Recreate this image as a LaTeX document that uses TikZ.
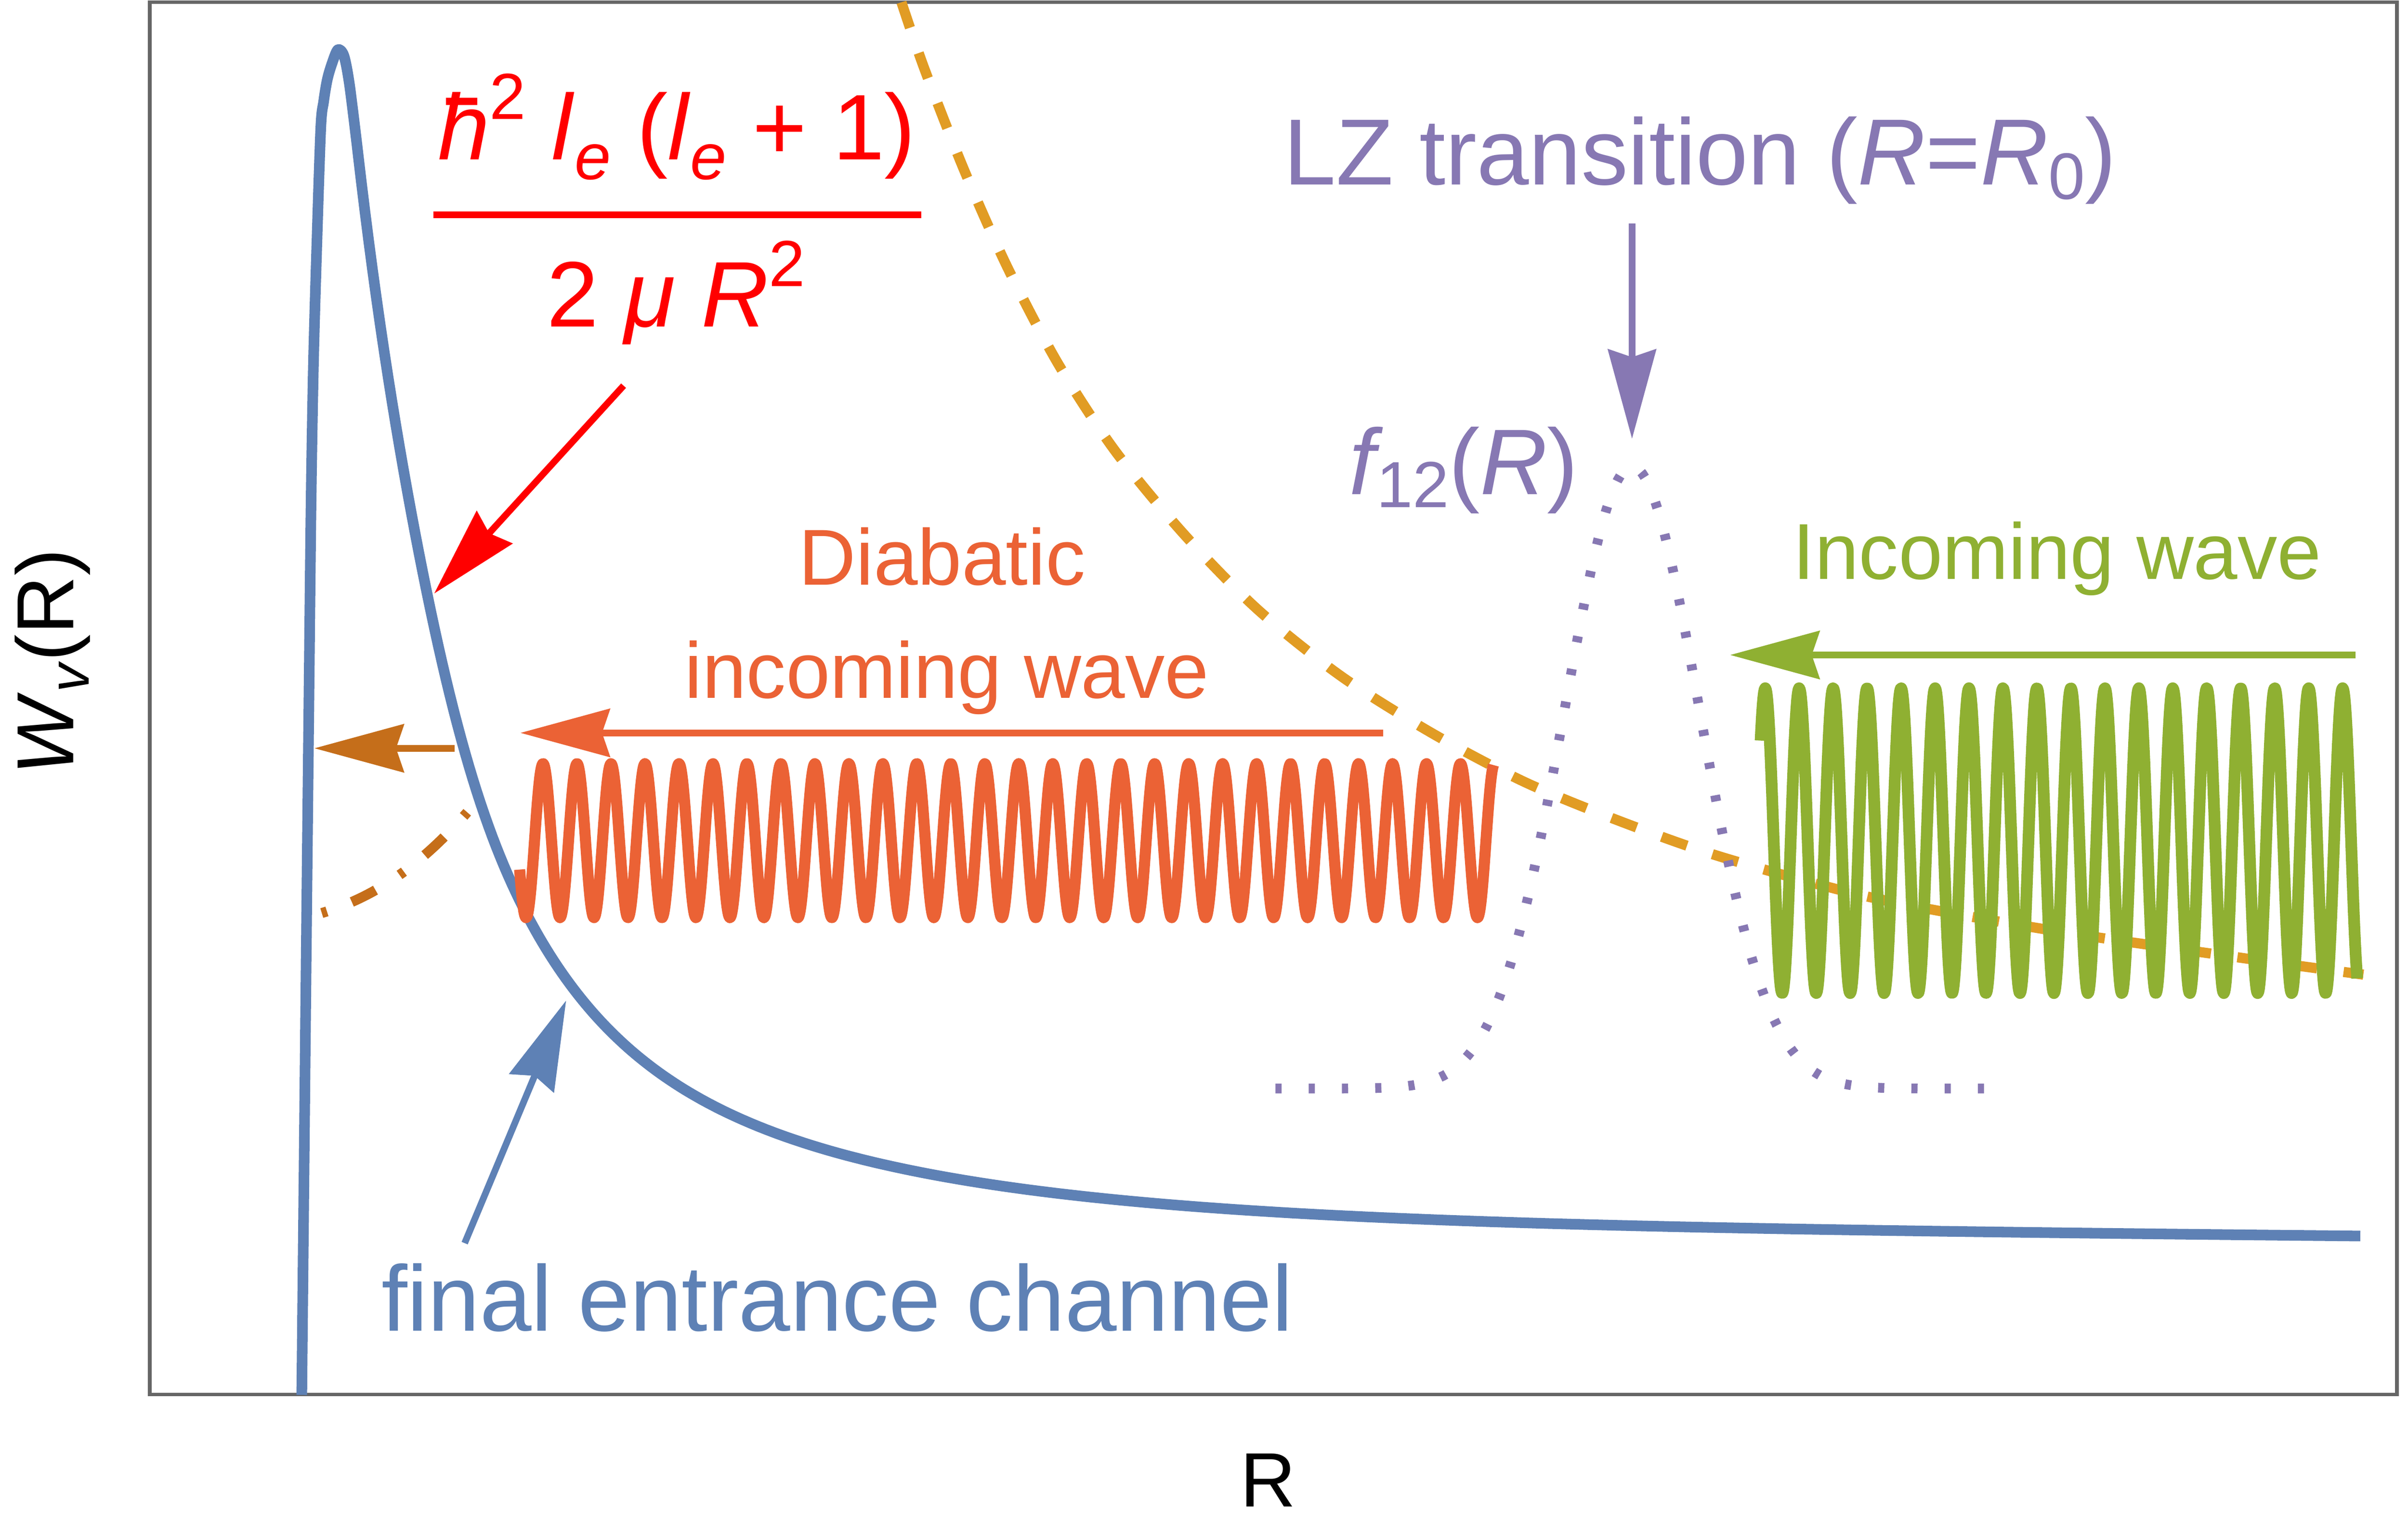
\documentclass[tikz,border=0pt]{standalone}
\usepackage{fontspec}
\setmainfont{Liberation Sans}
\usepackage{graphicx}
\usetikzlibrary{arrows.meta}
\definecolor{cBlue}{HTML}{5E81B5}
\definecolor{cOrange}{HTML}{E19C24}
\definecolor{cGreen}{HTML}{8FB032}
\definecolor{cRedOr}{HTML}{EB6235}
\definecolor{cPurple}{HTML}{8778B3}
\definecolor{cBrown}{HTML}{C56E1A}
\definecolor{cFrame}{HTML}{666666}
\newcommand\sps[1]{\raisebox{0.435em}{\scalebox{0.7}{#1}}}
\newcommand\sbs[2][0.2em]{\raisebox{-#1}{\scalebox{0.7}{#2}}}
\newcommand\hbarit{\makebox[0pt][l]{\hspace{0.085em}\rule[0.587em]{0.34em}{0.078em}}\textit{h}}
\begin{document}
\begin{tikzpicture}[x=1pt,y=-1pt,
  lbl/.style={inner sep=0pt, anchor=base west},
  wave/.style={line width=7.2pt, line join=round},
  arr/.style={line width=4.3pt, -{Stealth[length=58pt,width=31pt,inset=5pt]}},
  f60/.style={font=\fontsize{60.5}{72}\selectfont},
  f61/.style={font=\fontsize{61}{72}\selectfont},
  f52/.style={font=\fontsize{51.5}{62}\selectfont},
  f50/.style={font=\fontsize{50}{60}\selectfont}]
\useasboundingbox (0,0) rectangle (1564,995);
\fill[white] (0,0) rectangle (1564,995);

% frame
\draw[cFrame, line width=2.4pt] (97.3,1.4) rectangle (1556.7,905.7);

% blue potential curve
\draw[cBlue, line width=6.9pt, line join=round]
  plot[smooth, tension=0.5] coordinates {
   (196,906) (199,610) (200.5,469) (202,330) (203.5,240) (205.5,168) (208.3,84)
   (210.2,66) (212.5,52) (215.4,41.9) (219.4,32.3) (223.4,36.3) (227,55) (232,95.3)}
  -- plot[domain=232:1533, samples=520]
   (\x, {790 + 0.0085*\x - 158*exp(-(\x-295)/192) - 165*exp(-(\x-295)/60)
          - 14*exp(-min(((\x-265)/35)^2,40))});

% orange dashed diabatic curve
\draw[cOrange, line width=6.6pt, dash pattern=on 17.4pt off 17.4pt] plot[smooth, tension=0.5] coordinates {
 (585.5,1.5) (600.5,45) (626,110) (654,173) (686.8,235.5) (724,292.5) (769,347)
 (817,396) (871.5,439.5) (931.5,477) (991.5,508.5) (1056.5,535) (1121,557.5)
 (1216,583) (1331,604) (1455,622) (1535,633)};

% purple dotted coupling f12
\draw[cPurple, line width=6.3pt, dash pattern=on 4pt off 17.6pt]
  plot[domain=828.4:1303, samples=240] (\x, {707 - 404*exp(-0.5*((\x-1060)/44)^2)});

% brown dash-dot reflected curve
\coordinate (bd0) at (209,593);
\coordinate (bd1) at (303.5,527.5);
\draw[cBrown, line width=6.5pt, dash pattern=on 3.5pt off 17.3pt on 17.2pt off 18.5pt]
  (bd0) .. controls (241,583.4) and (271.5,564.3) .. (bd1);

% waves
\draw[cRedOr, wave] plot[domain=337.5:970, samples=1400]
  (\x, {546 - 50*cos(16.3117*(\x-352.7))});
\draw[cGreen, wave, line width=7.6pt] plot[domain=1143.5:1531, samples=900]
  (\x, {546 - 99*cos(16.3191*(\x-1146.5))});

% arrows
\coordinate (ra0) at (405,250.5);   \coordinate (ra1) at (282,385.5);
\coordinate (pa0) at (1060,145);    \coordinate (pa1) at (1060,285);
\coordinate (oa0) at (898.5,476);   \coordinate (oa1) at (338,476);
\coordinate (ga0) at (1530,425.4);  \coordinate (ga1) at (1123.7,425.4);
\coordinate (ba0) at (295.3,486);   \coordinate (ba1) at (204.2,486);
\coordinate (la0) at (301.8,807.4); \coordinate (la1) at (367.7,649.8);
\draw[arr, red] (ra0) -- (ra1);
\draw[arr, cPurple] (pa0) -- (pa1);
\draw[arr, cRedOr] (oa0) -- (oa1);
\draw[arr, cGreen] (ga0) -- (ga1);
\draw[arr, cBrown] (ba0) -- (ba1);
\draw[arr, cBlue] (la0) -- (la1);

% formula
\node[lbl, f60, text=red] (num) at (284.2,103.7)
  {\hbarit\sps{2} \textit{l}\sbs[0.21em]{\textit{e}} (\textit{l}\sbs[0.21em]{\textit{e}} + 1)};
\coordinate (fb0) at (281.6,139.6); \coordinate (fb1) at (598.5,139.6);
\draw[red, line width=4.5pt] (fb0) -- (fb1);
\node[lbl, f60, text=red] (den) at (355,212.3) {2 \textit{μ} \textit{R}\sps{2}};

% labels
\node[lbl, f61, text=cPurple] (lz) at (833.6,120.1)
  {LZ transition (\textit{R}=\textit{R}\sbs[0.15em]{0})};
\node[lbl, f60, text=cPurple] (f12) at (876,321.2)
  {\textit{f}\kern-0.07em\sbs[0.14em]{12}(\textit{R})};
\node[lbl, f52, text=cRedOr] (dia1) at (518.7,380) {Diabatic};
\node[lbl, f52, text=cRedOr] (dia2) at (444.5,453.5) {incoming wave};
\node[lbl, f52, text=cGreen] (inc) at (1164.2,376.2) {Incoming wave};
\node[lbl, f60, text=cBlue] (fin) at (247.6,864.5) {final entrance channel};
\node[lbl, f50] (xl) at (805.5,978.7) {R};
\node[lbl, font=\fontsize{52.5}{63}\selectfont, rotate=90] (yl) at (47.8,503.5)
  {\textit{W}\sbs[0.19em]{\textit{v}}(R)};
\end{tikzpicture}
\end{document}
